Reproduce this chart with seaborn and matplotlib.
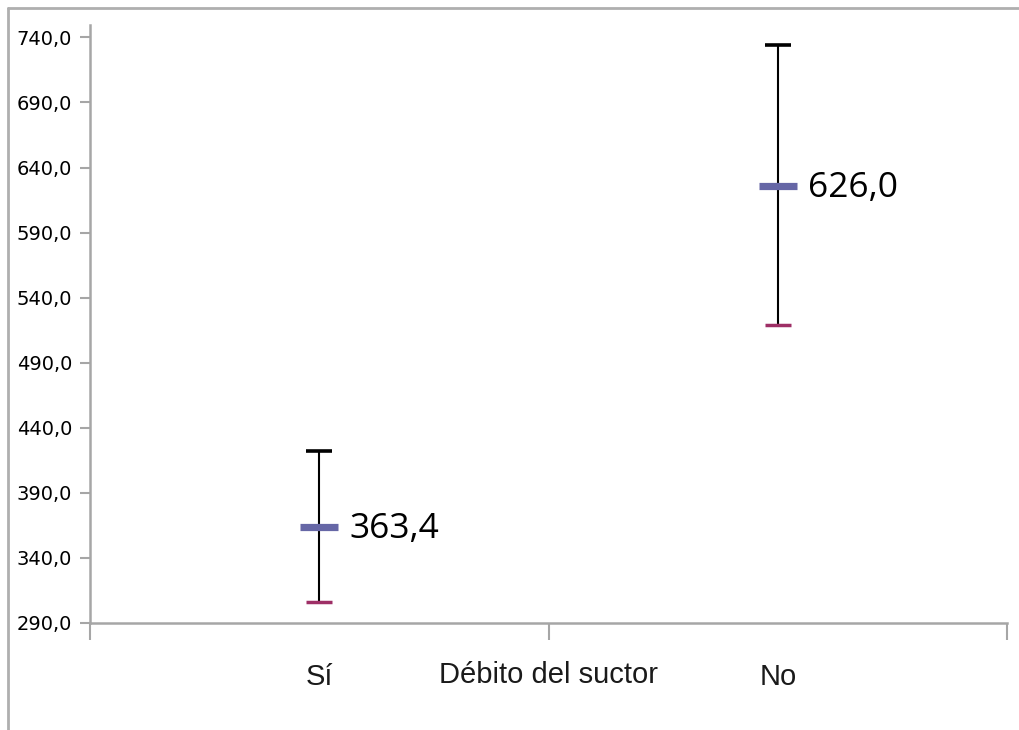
import matplotlib
matplotlib.use("Agg")
import matplotlib.pyplot as plt
import numpy as np
import pandas as pd
import seaborn as sns
from matplotlib.lines import Line2D

categories = ["Sí", "No"]
high_values = [422.5, 734.0]
low_values = [306.0, 519.0]
mean_values = [363.4, 626.0]
mean_labels = ["363,4", "626,0"]
axis_title = "Débito del suctor"
y_ticks = [290, 340, 390, 440, 490, 540, 590, 640, 690, 740]

HIGH_COLOR = "#000000"
LOW_COLOR = "#9E2F66"
MEAN_COLOR = "#6667A6"
AXIS_COLOR = "#A6A6A6"


def run():
    df = pd.DataFrame({
        "pos": np.arange(len(categories)),
        "category": categories,
        "high": high_values,
        "low": low_values,
        "mean": mean_values,
    })
    plot_chart(df)


def plot_chart(df):
    sns.set_style("white")
    fig = plt.figure(figsize=(10.19, 7.30), dpi=100)
    ax = fig.add_axes([90 / 1019, 107 / 730, 917 / 1019, 598 / 730])

    # frame of the chart area, cut at right and bottom
    fig.add_artist(Line2D([8 / 1019, 1.0], [722 / 730, 722 / 730],
                          transform=fig.transFigure, color="#AFAFAF", lw=2))
    fig.add_artist(Line2D([8 / 1019, 8 / 1019], [0.0, 722 / 730],
                          transform=fig.transFigure, color="#AFAFAF", lw=2))

    ax.vlines(df["pos"], df["low"], df["high"], color="black", lw=1.5,
              zorder=1)
    sns.scatterplot(ax=ax, data=df, x="pos", y="high", marker="_",
                    s=370, color=HIGH_COLOR, linewidth=2.6, zorder=2)
    sns.scatterplot(ax=ax, data=df, x="pos", y="low", marker="_",
                    s=370, color=LOW_COLOR, linewidth=2.5, zorder=2)
    sns.scatterplot(ax=ax, data=df, x="pos", y="mean", marker="_",
                    s=760, color=MEAN_COLOR, linewidth=5.2, zorder=3)

    for pos, val, lab in zip(df["pos"], df["mean"], mean_labels):
        ax.annotate(lab, xy=(pos, val), xytext=(30, -2),
                    textcoords="offset pixels", ha="left", va="center",
                    fontsize=25.5, family="Open Sans", color="black")

    ax.set_xlim(-0.5, len(categories) - 0.5)
    ax.set_ylim(290, 749.5)

    ax.set_yticks(y_ticks)
    ax.set_yticklabels([f"{v:.1f}".replace(".", ",") for v in y_ticks],
                       fontsize=14, family="DejaVu Sans", color="black")
    ax.tick_params(axis="y", direction="out", length=7, width=1.5,
                   color=AXIS_COLOR, pad=6, left=True)

    ax.set_xticks(np.arange(len(categories) + 1) - 0.5)
    ax.set_xticklabels([])
    ax.tick_params(axis="x", which="major", direction="out", length=12,
                   width=1.5, color=AXIS_COLOR, bottom=True)
    ax.set_xticks(np.arange(len(categories)), minor=True)
    ax.set_xticklabels(categories, minor=True, fontsize=21,
                       family="Liberation Sans", color="#1A1A1A")
    ax.tick_params(axis="x", which="minor", length=0, pad=29)

    ax.set_xlabel(axis_title, fontsize=21, family="Liberation Sans",
                  color="#1A1A1A")
    ax.xaxis.set_label_coords(0.5, -0.064)
    ax.set_ylabel("")

    sns.despine(ax=ax, top=True, right=True)
    for side in ("left", "bottom"):
        ax.spines[side].set_color(AXIS_COLOR)
        ax.spines[side].set_linewidth(1.8)

    fig.savefig("out.png", dpi=100)


if __name__ == "__main__":
    run()
